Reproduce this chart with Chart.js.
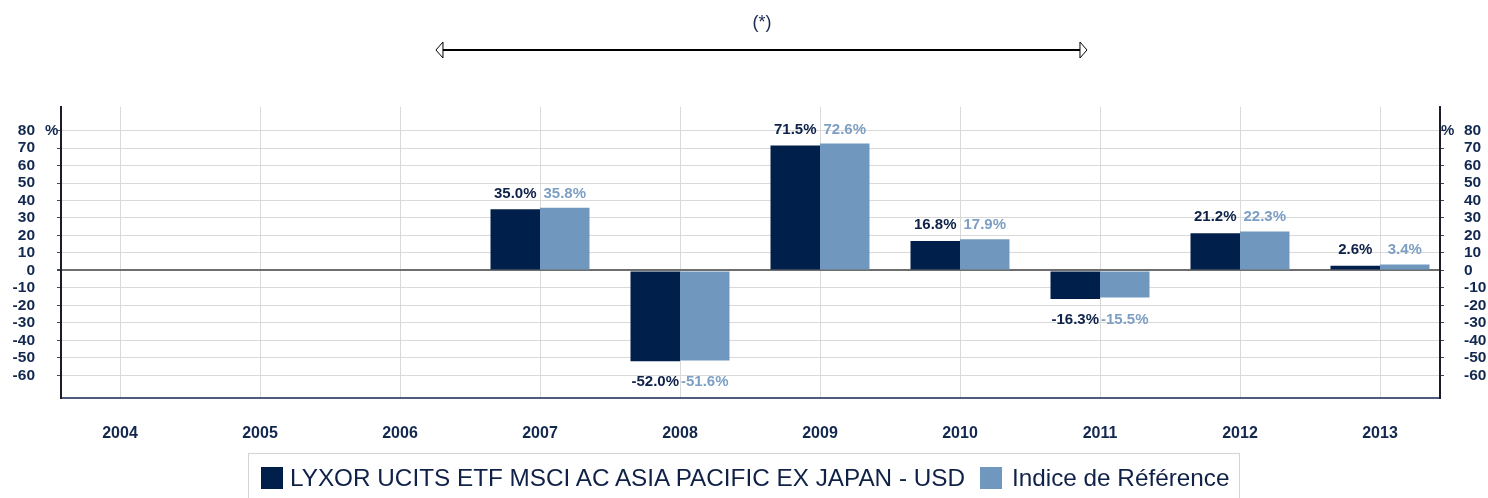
<!DOCTYPE html>
<html>
<head>
<meta charset="utf-8">
<script src="https://cdn.jsdelivr.net/npm/chart.js@4.4.1/dist/chart.umd.min.js"></script>
<style>
  body { margin: 0; background: #fff; font-family: "Liberation Sans", Arial, sans-serif; }
  #wrap { position: relative; width: 1488px; height: 498px; }
  #legend {
    position: absolute; left: 248px; top: 453px; width: 992px; height: 60px;
    border: 1px solid #d4d4d4; box-sizing: border-box;
    font-size: 24.3px; color: #0f2147; white-space: nowrap;
  }
  #legend span.box { position: absolute; top: 13px; width: 22px; height: 22px; }
  #legend span.txt { position: absolute; top: 10px; }
</style>
</head>
<body>
<div id="wrap">
  <canvas id="chart" width="1488" height="498"></canvas>
  <div id="legend">
    <span class="box" style="left:12px;background:#001f4b"></span>
    <span class="txt" style="left:41px">LYXOR UCITS ETF MSCI AC ASIA PACIFIC EX JAPAN - USD</span>
    <span class="box" style="left:731px;background:#7098bf"></span>
    <span class="txt" style="left:763px">Indice de Référence</span>
  </div>
</div>
<script>
var years = [2004, 2005, 2006, 2007, 2008, 2009, 2010, 2011, 2012, 2013];
var fund = [null, null, null, 35.0, -52.0, 71.5, 16.8, -16.3, 21.2, 2.6];
var index = [null, null, null, 35.8, -51.6, 72.6, 17.9, -15.5, 22.3, 3.4];
var yTicks = [-60, -50, -40, -30, -20, -10, 0, 10, 20, 30, 40, 50, 60, 70, 80];

var navy = '#001f4b';
var lightBlue = '#7098bf';
var textNavy = '#12284f';

var toPoints = function (vals) {
    return years.map(function (y, i) { return { x: y, y: vals[i] }; });
};

// etiquettes de valeurs au-dessus / au-dessous des barres
var valueLabels = {
    id: 'valueLabels',
    afterDatasetsDraw: function (chart) {
        const ctx = chart.ctx;
        const ys = chart.scales.y;
        const m0 = chart.getDatasetMeta(0).data;
        const m1 = chart.getDatasetMeta(1).data;
        ctx.save();
        ctx.font = 'bold 15px "Liberation Sans", Arial';
        ctx.textAlign = 'center';
        ctx.textBaseline = 'alphabetic';
        for (let i = 0; i < years.length; i++) {
            if (fund[i] === null) continue;
            let y;
            if (fund[i] >= 0) {
                y = ys.getPixelForValue(Math.max(fund[i], index[i])) - 10;
            } else {
                y = ys.getPixelForValue(Math.min(fund[i], index[i])) + 25;
            }
            ctx.fillStyle = '#0d2149';
            ctx.fillText(fund[i].toFixed(1) + '%', m0[i].x, y);
            ctx.fillStyle = '#7d9fc4';
            ctx.fillText(index[i].toFixed(1) + '%', m1[i].x, y);
        }
        ctx.restore();
    }
};

// flèche (*) et symboles %
var extras = {
    id: 'extras',
    afterDraw: function (chart) {
        const ctx = chart.ctx;
        const xs = chart.scales.x;
        const x1 = xs.getPixelForValue(2006.257);
        const x2 = xs.getPixelForValue(2010.907);
        const ay = 50;
        ctx.save();
        ctx.strokeStyle = '#000';
        ctx.lineWidth = 2;
        ctx.beginPath();
        ctx.moveTo(x1 + 7, ay);
        ctx.lineTo(x2 - 7, ay);
        ctx.stroke();
        ctx.lineWidth = 1;
        ctx.fillStyle = '#fff';
        ctx.beginPath();
        ctx.moveTo(x1, ay); ctx.lineTo(x1 + 7, ay - 8); ctx.lineTo(x1 + 7, ay + 8); ctx.closePath();
        ctx.fill(); ctx.stroke();
        ctx.beginPath();
        ctx.moveTo(x2, ay); ctx.lineTo(x2 - 7, ay - 8); ctx.lineTo(x2 - 7, ay + 8); ctx.closePath();
        ctx.fill(); ctx.stroke();

        ctx.fillStyle = '#1a2a50';
        ctx.font = '18px "Liberation Sans", Arial';
        ctx.textAlign = 'center';
        ctx.textBaseline = 'middle';
        ctx.fillText('(*)', 762, 23);

        ctx.font = 'bold 15px "Liberation Sans", Arial';
        ctx.fillStyle = textNavy;
        const py = chart.scales.y.getPixelForValue(80);
        ctx.textAlign = 'left';
        ctx.fillText('%', chart.chartArea.left - 16, py);
        ctx.fillText('%', chart.chartArea.right + 1, py);
        ctx.restore();
    }
};

var setYTicks = function (scale) {
    scale.ticks = yTicks.map(function (v) { return { value: v }; });
};

var ctx = document.getElementById('chart');
var chart = new Chart(ctx, {
    type: 'bar',
    data: {
        datasets: [
            {
                label: 'LYXOR UCITS ETF MSCI AC ASIA PACIFIC EX JAPAN - USD',
                data: toPoints(fund),
                backgroundColor: navy,
            },
            {
                label: 'Indice de Référence',
                data: toPoints(index),
                backgroundColor: lightBlue,
            },
        ],
    },
    options: {
        responsive: false,
        animation: false,
        events: [],
        categoryPercentage: 0.707,
        barPercentage: 1.0,
        layout: { padding: { top: 107, left: 0, right: 0, bottom: 0 } },
        plugins: {
            legend: { display: false },
            tooltip: { enabled: false },
        },
        scales: {
            x: {
                type: 'linear',
                offset: false,
                min: 2004 - 59 / 140,
                max: 2013 + 60 / 140,
                afterBuildTicks: function (scale) {
                    scale.ticks = years.map(function (v) { return { value: v }; });
                },
                afterFit: function (scale) { scale.height = 100; },
                grid: { color: '#d9d9d9', lineWidth: 1, drawTicks: false, offset: false },
                border: { color: '#4d5c7d', width: 2 },
                ticks: {
                    padding: 26,
                    autoSkip: false,
                    color: textNavy,
                    font: { family: '"Liberation Sans", Arial', size: 16, weight: 'bold' },
                    callback: function (v) { return String(v); },
                    maxRotation: 0,
                },
            },
            y: {
                position: 'left',
                min: -73,
                max: 93.5,
                afterBuildTicks: setYTicks,
                afterFit: function (scale) { scale.width = 61; },
                grid: {
                    color: function (c) { return c.tick && c.tick.value === 0 ? '#6e6e6e' : '#d9d9d9'; },
                    lineWidth: function (c) { return c.tick && c.tick.value === 0 ? 2 : 1; },
                    tickColor: '#3a4a6a',
                    tickLength: 4,
                },
                border: { color: '#1c1c28', width: 2 },
                ticks: {
                    padding: 22,
                    autoSkip: false,
                    color: textNavy,
                    font: { family: '"Liberation Sans", Arial', size: 15.5, weight: 'bold' },
                },
            },
            y2: {
                position: 'right',
                min: -73,
                max: 93.5,
                afterBuildTicks: setYTicks,
                afterFit: function (scale) { scale.width = 48; },
                grid: { color: 'transparent', tickColor: '#3a4a6a', tickLength: 4 },
                border: { color: '#1c1c28', width: 2 },
                ticks: {
                    padding: 20,
                    autoSkip: false,
                    color: textNavy,
                    font: { family: '"Liberation Sans", Arial', size: 15.5, weight: 'bold' },
                },
            },
        },
    },
    plugins: [valueLabels, extras],
});
</script>
</body>
</html>
